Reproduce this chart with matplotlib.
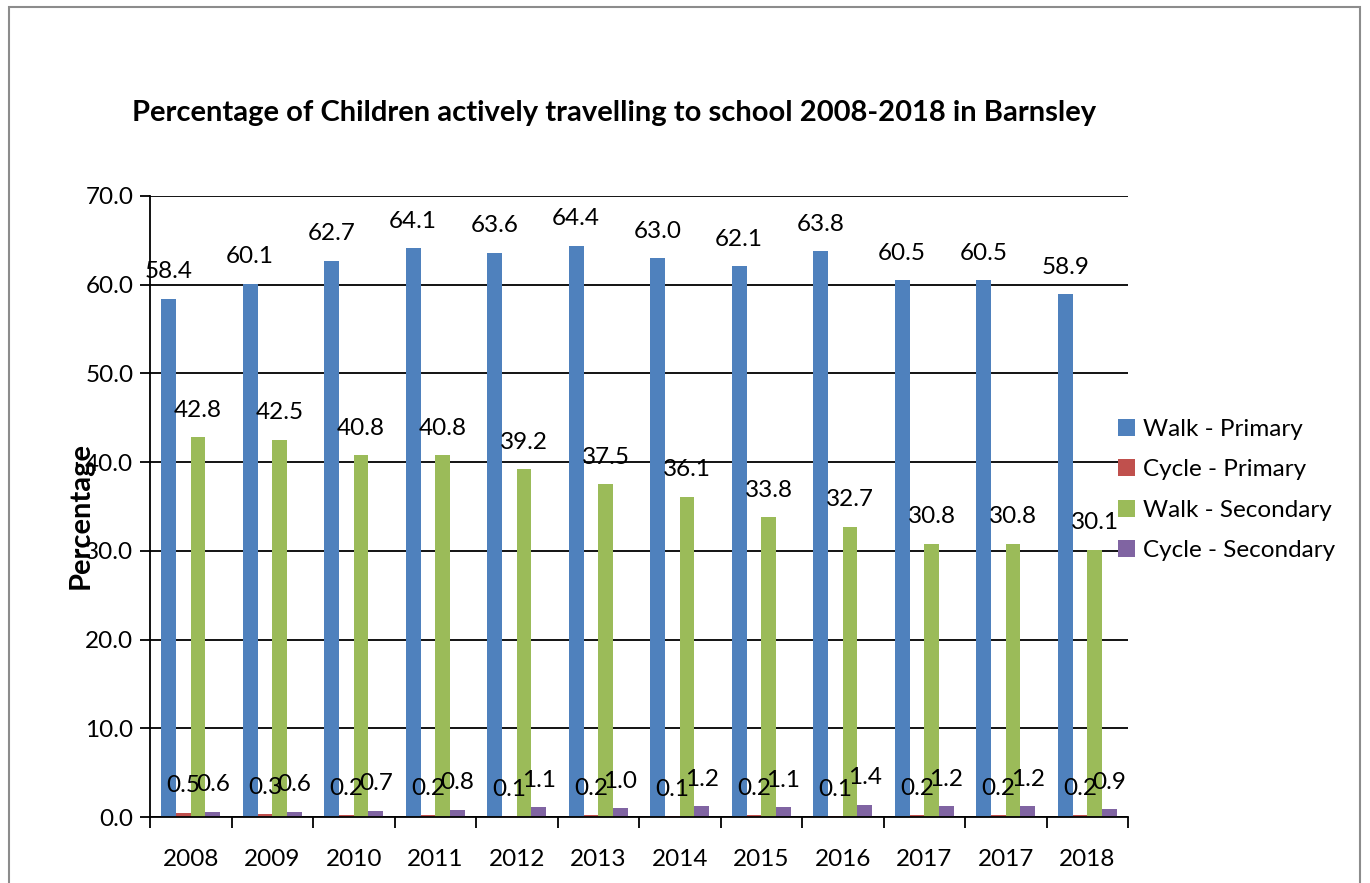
import numpy as np
import matplotlib.pyplot as plt
from matplotlib.patches import Rectangle

plt.rcParams["font.family"] = ["Lato", "DejaVu Sans"]

years = ["2008", "2009", "2010", "2011", "2012", "2013",
         "2014", "2015", "2016", "2017", "2017", "2018"]
walk_primary = [58.4, 60.1, 62.7, 64.1, 63.6, 64.4, 63.0, 62.1, 63.8, 60.5, 60.5, 58.9]
cycle_primary = [0.5, 0.3, 0.2, 0.2, 0.1, 0.2, 0.1, 0.2, 0.1, 0.2, 0.2, 0.2]
walk_secondary = [42.8, 42.5, 40.8, 40.8, 39.2, 37.5, 36.1, 33.8, 32.7, 30.8, 30.8, 30.1]
cycle_secondary = [0.6, 0.6, 0.7, 0.8, 1.1, 1.0, 1.2, 1.1, 1.4, 1.2, 1.2, 0.9]

series = [
    ("Walk - Primary", walk_primary, "#4F81BD"),
    ("Cycle - Primary", cycle_primary, "#C0504D"),
    ("Walk - Secondary", walk_secondary, "#9BBB59"),
    ("Cycle - Secondary", cycle_secondary, "#8064A2"),
]

FS = 17.5
W, H = 1370, 883
fig = plt.figure(figsize=(W / 100, H / 100), dpi=100)
fig.patches.append(Rectangle((9 / W, -0.05), (1360 - 9) / W, 1.05 - 7 / H,
                             transform=fig.transFigure, fill=False,
                             edgecolor="#8c8c8c", linewidth=1.5))

ax = fig.add_axes([150 / W, 1 - 817 / H, 978 / W, (817 - 196) / H])
x = np.arange(len(years))
width = 0.18
for k, (name, vals, color) in enumerate(series):
    pos = x + (k - 1.5) * width
    ax.bar(pos, vals, width, color=color, label=name, zorder=2)
    for px, v in zip(pos, vals):
        ax.annotate(f"{v:.1f}", (px, v), xytext=(0, 27), textcoords="offset pixels",
                    ha="center", va="center", fontsize=FS, zorder=3)

ax.set_xlim(-0.5, len(years) - 0.5)
ax.set_ylim(0, 70)
ax.set_yticks(np.arange(0, 71, 10))
ax.set_yticklabels([f"{t:.1f}" for t in np.arange(0, 71, 10)], fontsize=FS)
ax.yaxis.grid(True, color="black", linewidth=1.3)
ax.set_axisbelow(True)

ax.set_xticks(np.arange(-0.5, len(years), 1))
ax.set_xticklabels([])
ax.set_xticks(x, minor=True)
ax.set_xticklabels(years, minor=True, fontsize=FS)
ax.tick_params(axis="x", which="major", length=8, width=1.3, direction="out")
ax.tick_params(axis="x", which="minor", length=0, pad=23)
ax.tick_params(axis="y", length=7, width=1.3, pad=5)

for side in ("top", "right"):
    ax.spines[side].set_visible(False)
for side in ("left", "bottom"):
    ax.spines[side].set_linewidth(1.3)

ax.set_ylabel("Percentage", fontsize=21, fontweight="bold")
ax.yaxis.set_label_coords(-0.058, 0.486)

fig.text(614 / W, 1 - 113 / H,
         "Percentage of Children actively travelling to school 2008-2018 in Barnsley",
         ha="center", va="center", fontsize=21, fontweight="bold")

fig.legend(loc="center left", bbox_to_anchor=(1096 / W, 1 - 490 / H), frameon=False,
           fontsize=FS, handlelength=0.7, handleheight=0.7, handletextpad=0.35,
           labelspacing=0.79)

fig.savefig("out.png", dpi=100)
